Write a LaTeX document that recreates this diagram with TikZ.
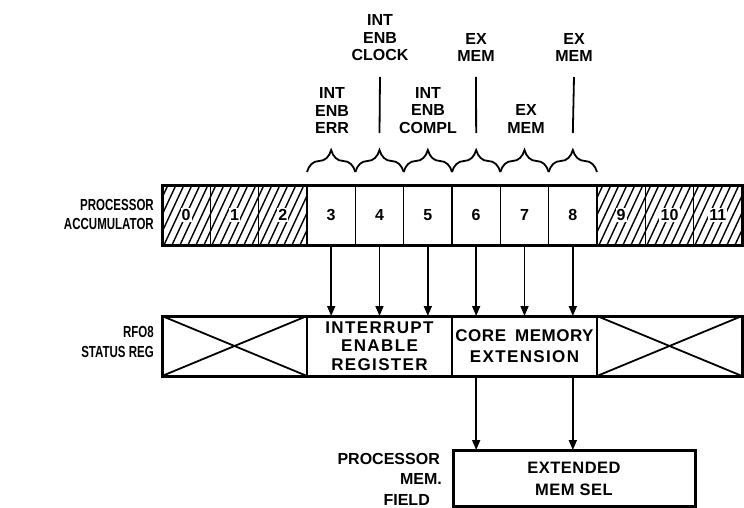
\documentclass[tikz,border=0pt]{standalone}
\usepackage{fontspec}
\setmainfont{Liberation Sans}
\newfontfamily\narrowfont{Liberation Sans Bold}[FakeStretch=0.72]
\newfontfamily\spacedfont{Liberation Sans}[LetterSpace=8]
\newfontfamily\lightspaced{Liberation Sans}[LetterSpace=3]
\usetikzlibrary{arrows.meta,decorations.pathreplacing,calc}
\begin{document}
\begin{tikzpicture}[x=1pt,y=-1pt,
  lab/.style={font=\fontsize{16}{17.5}\selectfont\bfseries, align=center, inner sep=0pt},
  cellbox/.style={draw, line width=1.6pt, minimum width=48.33pt, minimum height=60pt, inner sep=0pt, outer sep=0pt, anchor=north west},
  secbox/.style={draw, line width=1.6pt, minimum width=145pt, minimum height=60pt, inner sep=0pt, outer sep=0pt, anchor=north west},
  digit/.style={font=\fontsize{16}{17.5}\selectfont\bfseries, inner sep=1.2pt},
  outer/.style={line width=3pt},
  hatch/.style={line width=1.4pt},
  cross/.style={line width=1.8pt},
  bracestyle/.style={line width=1.8pt, decorate, decoration={brace, amplitude=22pt}},
  tick/.style={line width=1.8pt},
  arr/.style={line width=1.6pt, -{Triangle[length=10pt,width=8pt]}}
]
\useasboundingbox (0,0) rectangle (744,508);

% accumulator cells
\foreach \i in {0,...,11} {
  \node[cellbox] (c\i) at ({162+\i*48.333},185) {};
}
% hatching
\begin{scope}
  \clip (c0.north west) rectangle (c2.south east);
  \foreach \k in {0,...,22} \draw[hatch] ({132+\k*8},245) -- ({160+\k*8},185);
\end{scope}
\begin{scope}
  \clip (c9.north west) rectangle (c11.south east);
  \foreach \k in {0,...,22} \draw[hatch] ({567+\k*8},245) -- ({595+\k*8},185);
\end{scope}
\foreach \i in {3,...,8} \node[digit] at (c\i) {\i};
\foreach \i in {0,1,2,9,10,11} \node[digit, fill=white] at (c\i) {\i};
\draw[outer] (c0.north west) rectangle (c11.south east);

% braces
\foreach \i in {3,...,8}
  \draw[bracestyle] ($(c\i.north west)+(0,-13)$) -- ($(c\i.north east)+(0,-13)$);

% top labels
\node[lab] (lclk) at (380,38) {INT\\ENB\\CLOCK};
\node[lab] (lex1) at (476,47.5) {EX\\MEM};
\node[lab] (lex2) at (574,47.5) {EX\\MEM};
\node[lab] (lerr) at (332,110.5) {INT\\ENB\\ERR};
\node[lab] (lcmp) at (428,110.5) {INT\\ENB\\COMPL};
\node[lab] (lex3) at (526,119) {EX\\MEM};

\draw[tick] (lclk.south |- 0,77) -- ([yshift=52pt]c4.north);
\draw[tick] (lex1.south |- 0,77) -- ([yshift=52pt]c6.north);
\draw[tick] (lex2.south |- 0,77) -- ([yshift=52pt]c8.north);

% left labels
\node[lab, align=right, anchor=east, font=\narrowfont\fontsize{16}{19}\selectfont] (lacc) at (154,214) {PROCESSOR\\ACCUMULATOR};
\node[lab, align=right, anchor=east, font=\narrowfont\fontsize{16}{20}\selectfont] (lrf) at (154,342) {RFO8\\STATUS REG};

% status register
\node[secbox] (s1) at (162,316) {};
\node[secbox] (s2) at (307,316) {};
\node[secbox] (s3) at (452,316) {};
\node[secbox] (s4) at (597,316) {};
\draw[cross] (s1.north west) -- (s1.south east) (s1.south west) -- (s1.north east);
\draw[cross] (s4.north west) -- (s4.south east) (s4.south west) -- (s4.north east);
\node[lab, font=\spacedfont\fontsize{17}{18.5}\selectfont\bfseries] at (s2) {INTERRUPT\\ENABLE\\REGISTER};
\node[lab, font=\lightspaced\fontsize{17}{21}\selectfont\bfseries] at (s3) {CORE\hspace{9pt}MEMORY\\{\spacedfont EXTENSION}};
\draw[outer] (s1.north west) rectangle (s4.south east);

% arrows accumulator -> status
\foreach \i in {3,4,5} \draw[arr] (c\i.south) -- (c\i.south |- s2.north);
\foreach \i in {6,7,8} \draw[arr] (c\i.south) -- (c\i.south |- s3.north);

% memory select box
\node[draw, line width=3pt, minimum width=242pt, minimum height=56pt, inner sep=0pt, outer sep=0pt, anchor=north west] (ms) at (453,450) {};
\node[lab, font=\lightspaced\fontsize{16.5}{22}\selectfont\bfseries] at (574,479) {EXTENDED\\MEM SEL};
\draw[arr] (c6.south |- s3.south) -- (c6.south |- ms.north);
\draw[arr] (c8.south |- s3.south) -- (c8.south |- ms.north);

\node[lab, anchor=east] (lp) at (440,459) {PROCESSOR};
\node[lab, anchor=east] (lm) at (442,479) {MEM.};
\node[lab, anchor=east] (lf) at (430,500) {FIELD};
\end{tikzpicture}
\end{document}
